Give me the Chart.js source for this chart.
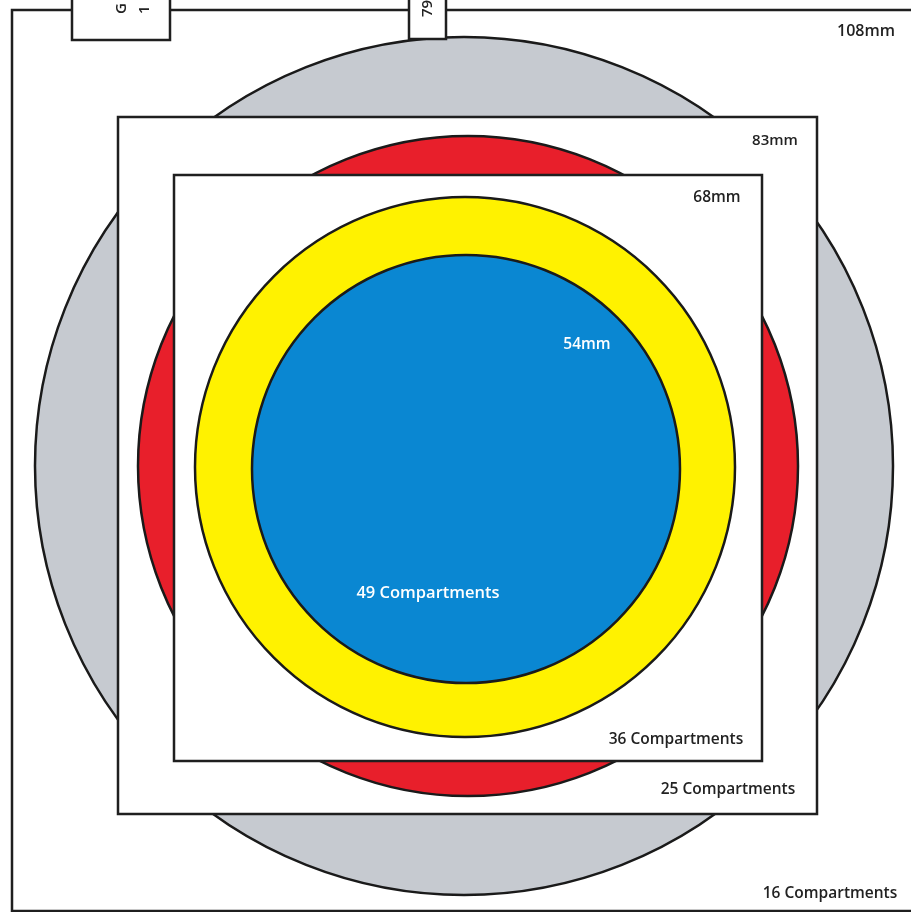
<!DOCTYPE html>
<html>
<head>
<meta charset="utf-8">
<script src="https://cdn.jsdelivr.net/npm/chart.js@4.4.1/dist/chart.umd.min.js"></script>
<style>
html,body{margin:0;padding:0;background:#fff;overflow:hidden;}
#c{display:block;}
</style>
</head>
<body>
<canvas id="c" width="911" height="912"></canvas>
<script>
// ---- data (diagram units = reference pixels) ----
const rectNames  = ['108mm square', '83mm square', '68mm square', 'tab G', 'tab 79'];
const rectLeft   = [12, 118, 174, 72, 409];
const rectTop    = [10, 117, 175, -6, -6];
const rectRight  = [914, 817, 762, 170, 446];
const rectBottom = [911, 814, 761, 40, 39];

const circleNames = ['16 compartments', '25 compartments', '36 compartments', '49 compartments'];
const circleX = [464, 468, 465, 466];
const circleY = [466, 466, 467, 469];
const circleR = [429, 330, 270, 214];
const circleColors = ['#c6cad0', '#e81f2b', '#fff200', '#0a87d2'];

const labelTexts = ['108mm', '83mm', '68mm', '54mm', '49 Compartments', '36 Compartments', '25 Compartments', '16 Compartments', 'G', '1', '79'];
const labelX     = [866, 775, 717, 587, 428, 676, 728, 830, 122, 145, 428];
const labelY     = [31, 141, 198, 345, 593, 740, 790, 894, 14, 14, 17];
const labelColor = ['#222', '#222', '#222', '#fff', '#fff', '#222', '#222', '#222', '#222', '#222', '#222'];
const labelSize  = [16, 15, 15.5, 15.5, 16.5, 15.5, 15.5, 15.5, 15, 15, 15];
const labelRot   = [0, 0, 0, 0, 0, 0, 0, 0, -90, -90, -90];

// draw sequence (bottom to top): [kind, index]
const drawSequence = [['r',0],['c',0],['r',3],['r',4],['r',1],['c',1],['r',2],['c',2],['c',3]];

// ---- build datasets ----
function rectDataset(i) {
  const l = rectLeft[i], t = rectTop[i], r = rectRight[i], b = rectBottom[i];
  return {
    label: rectNames[i],
    showLine: true,
    data: [{x:l,y:t},{x:r,y:t},{x:r,y:b},{x:l,y:b},{x:l,y:t},{x:r,y:t}],
    borderColor: '#1f1f1f',
    borderWidth: 2.5,
    borderJoinStyle: 'miter',
    backgroundColor: '#ffffff',
    fill: 'shape',
    tension: 0,
    pointRadius: 0,
    clip: false
  };
}
function circleDataset(i) {
  return {
    label: circleNames[i],
    data: [{x: circleX[i], y: circleY[i]}],
    pointRadius: (ctx) => {
      const s = ctx.chart.scales.x;
      return Math.abs(s.getPixelForValue(circleR[i]) - s.getPixelForValue(0));
    },
    pointBackgroundColor: circleColors[i],
    pointBorderColor: '#1a1a1a',
    pointBorderWidth: 2.5,
    clip: false
  };
}
const N = drawSequence.length;
const datasets = drawSequence.map(([k, i], n) => {
  const d = k === 'r' ? rectDataset(i) : circleDataset(i);
  d.order = N - n; // lower order is drawn on top
  return d;
});

const labelPlugin = {
  id: 'labels',
  afterDatasetsDraw(chart) {
    const ctx = chart.ctx, xs = chart.scales.x, ys = chart.scales.y;
    labelTexts.forEach((t, i) => {
      ctx.save();
      ctx.translate(xs.getPixelForValue(labelX[i]), ys.getPixelForValue(labelY[i]));
      ctx.fillStyle = labelColor[i];
      ctx.font = '600 ' + labelSize[i] + 'px "Open Sans", sans-serif';
      if (labelRot[i]) {
        ctx.rotate(labelRot[i] * Math.PI / 180);
        ctx.textAlign = 'left';
      } else {
        ctx.textAlign = 'center';
      }
      ctx.textBaseline = 'middle';
      ctx.fillText(t, 0, 0);
      ctx.restore();
    });
  }
};

new Chart(document.getElementById('c'), {
  type: 'scatter',
  data: { datasets },
  options: {
    responsive: false,
    animation: false,
    events: [],
    layout: { padding: 0 },
    scales: {
      x: { type: 'linear', min: 0, max: 911, display: false },
      y: { type: 'linear', min: 0, max: 912, reverse: true, display: false }
    },
    plugins: {
      legend: { display: false },
      tooltip: { enabled: false },
      filler: { drawTime: 'beforeDatasetDraw', propagate: false }
    }
  },
  plugins: [labelPlugin]
});
</script>
</body>
</html>
